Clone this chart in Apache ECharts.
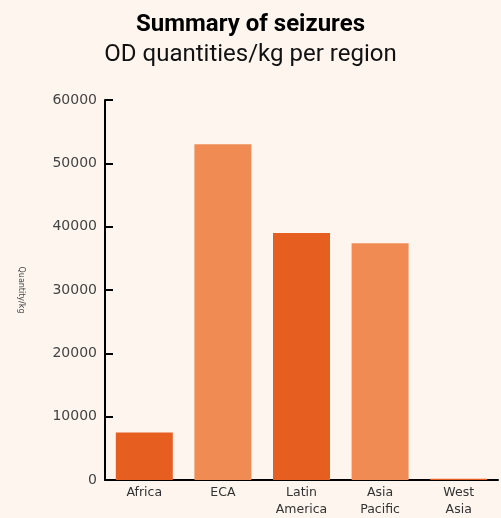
<!DOCTYPE html>
<html>
<head>
<meta charset="utf-8">
<script src="https://cdn.jsdelivr.net/npm/echarts@6/dist/echarts.min.js"></script>
<style>html,body{margin:0;padding:0;background:#fdf5ee;}#c{width:501px;height:518px;}</style>
</head>
<body>
<div id="c"></div>
<script>
const categories = ['Africa', 'ECA', 'Latin\nAmerica', 'Asia\nPacific', 'West\nAsia'];
const values = [7500, 53000, 39000, 37400, 200];
const barColors = ['#e65f20', '#f08b54', '#e65f20', '#f08b54', '#e65f20'];
const yTicks = { min: 0, max: 60000, interval: 10000 };

const chart = echarts.init(document.getElementById('c'));
chart.setOption({
  backgroundColor: '#fdf5ee',
  animation: false,
  title: {
    text: 'Summary of seizures',
    subtext: 'OD quantities/kg per region',
    left: 'center',
    top: 8,
    itemGap: 6,
    textStyle: { fontFamily: 'Roboto', fontWeight: 'bold', fontSize: 24, color: '#000' },
    subtextStyle: { fontFamily: 'Roboto', fontSize: 24, color: '#111' }
  },
  grid: { left: 105, right: 3, top: 100, bottom: 37, containLabel: false },
  xAxis: {
    type: 'category',
    data: categories,
    axisLine: { lineStyle: { color: '#000', width: 2 } },
    axisTick: { inside: true, length: 8, lineStyle: { color: '#000', width: 2 } },
    axisLabel: { color: '#333', fontFamily: 'DejaVu Sans', fontSize: 12.5, lineHeight: 17, margin: 4 }
  },
  yAxis: {
    type: 'value',
    min: yTicks.min, max: yTicks.max, interval: yTicks.interval,
    name: 'Quantity/kg',
    nameLocation: 'middle',
    nameGap: 80,
    nameRotate: -90,
    nameTextStyle: { color: '#444', fontFamily: 'DejaVu Sans', fontSize: 8 },
    axisLine: { show: true, lineStyle: { color: '#000', width: 2 } },
    axisTick: { show: true, inside: true, length: 8, lineStyle: { color: '#000', width: 2 } },
    axisLabel: { color: '#444', fontFamily: 'DejaVu Sans', fontSize: 14, margin: 8, formatter: v => String(v) },
    splitLine: { show: false }
  },
  series: [{
    type: 'bar',
    data: values.map((v, i) => ({ value: v, itemStyle: { color: barColors[i] } })),
    barWidth: 57
  }]
});
</script>
</body>
</html>
